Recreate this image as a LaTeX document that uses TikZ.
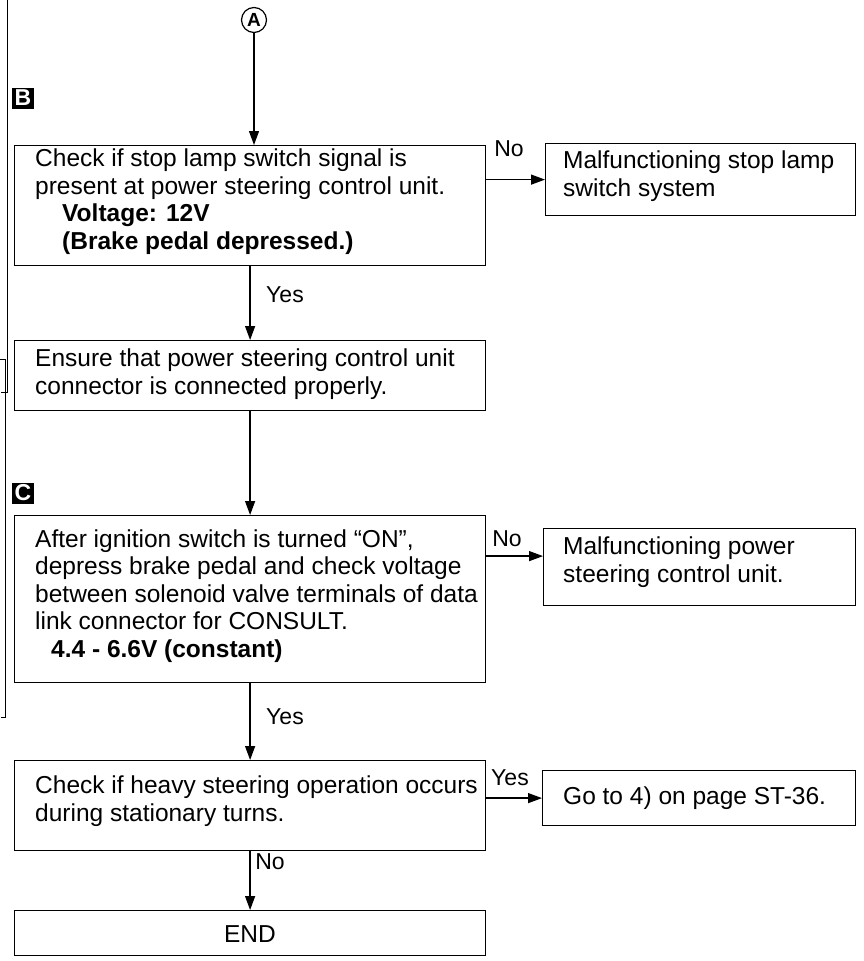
\documentclass[tikz,border=0pt]{standalone}
\usepackage{fontspec}
\setmainfont{Liberation Sans}
\usetikzlibrary{arrows.meta,positioning}
\begin{document}
\begin{tikzpicture}[x=1pt,y=-1pt,
  box/.style={draw, line width=1.2pt, anchor=north west, inner sep=0pt},
  txt/.style={anchor=base west, align=left, inner sep=0pt, font=\fontsize{24.5}{27.5}\selectfont},
  lbl/.style={font=\fontsize{23}{24}\selectfont, inner sep=1pt},
  tag/.style={fill=black, text=white, minimum width=22pt, minimum height=21pt, inner sep=0pt, font=\fontsize{23}{23}\selectfont\bfseries},
  arr/.style={line width=1.3pt, -{Triangle[length=14pt,width=10pt]}},
  brk/.style={line width=1pt}]
\useasboundingbox (0,0) rectangle (864,961);
% left margin brackets
\coordinate (b1a) at (7,0); \coordinate (b1b) at (7,392); \coordinate (b1c) at (1,392);
\draw[brk] (b1a) -- (b1b) -- (b1c);
\coordinate (b2a) at (0,359); \coordinate (b2b) at (5,359); \coordinate (b2c) at (5,717); \coordinate (b2d) at (1,717);
\draw[brk] (b2a) -- (b2b) -- (b2c) -- (b2d);
% circle A
\node[draw, circle, line width=1.2pt, minimum size=25pt, inner sep=0pt, font=\fontsize{19}{19}\selectfont\bfseries] (A) at (254,20) {A};
% tags
\node[tag] (B) at (23,98) {B};
\node[tag] (C) at (23,493) {C};
% boxes
\node[box, minimum width=471pt, minimum height=120pt] (b1) at (14,145) {};
\node[box, minimum width=310pt, minimum height=72pt] (b2) at (545,143) {};
\node[box, minimum width=471pt, minimum height=70pt] (b3) at (14,340) {};
\node[box, minimum width=471pt, minimum height=167pt] (b4) at (14,515) {};
\node[box, minimum width=312pt, minimum height=77pt] (b5) at (543,528) {};
\node[box, minimum width=471pt, minimum height=90pt] (b6) at (14,760) {};
\node[box, minimum width=313pt, minimum height=55pt] (b7) at (542,770) {};
\node[box, minimum width=471pt, minimum height=45pt] (b8) at (14,910) {};
% texts (anchored at the baseline of the last line)
\node[txt] (t1) at (35,249)
 {Check if stop lamp switch signal is\\present at power steering control unit.\\
  \hspace*{27pt}\textbf{Voltage: 12V}\\\hspace*{27pt}\textbf{(Brake pedal depressed.)}};
\node[txt] (t2) at (563,196) {Malfunctioning stop lamp\\switch system};
\node[txt] (t3) at (35,394) {Ensure that power steering control unit\\connector is connected properly.};
\node[txt] (t4) at (35,657)
 {After ignition switch is turned ``ON'',\\depress brake pedal and check voltage\\between solenoid valve terminals of data\\link connector for CONSULT.\\
  \hspace*{16pt}\textbf{4.4 - 6.6V (constant)}};
\node[txt] (t5) at (563,582) {Malfunctioning power\\steering control unit.};
\node[txt] (t6) at (35,821) {Check if heavy steering operation occurs\\during stationary turns.};
\node[txt] (t7) at (563,804) {Go to 4) on page ST-36.};
\node[txt, anchor=base] (t8) at (250,942) {END};
% connectors
\draw[arr] (A.south) -- (A.south |- b1.north);
\draw[arr] (b1.east |- b2.west) -- (b2.west);
\draw[arr] (b1.south) -- (b3.north);
\draw[arr] (b3.south) -- (b4.north);
\coordinate (p5) at ([yshift=11pt]b5.west);
\draw[arr] (b4.east |- p5) -- (p5);
\draw[arr] (b4.south) -- (b6.north);
\draw[arr] (b6.east |- b7.west) -- (b7.west);
\draw[arr] (b6.south) -- (b8.north);
% labels
\node[lbl] (n1) at (509,149) {No};
\node[lbl] (y1) at (285,295) {Yes};
\node[lbl] (n2) at (507,539) {No};
\node[lbl] (y2) at (285,717) {Yes};
\node[lbl] (y3) at (510,778) {Yes};
\node[lbl] (n3) at (270,862) {No};
\end{tikzpicture}
\end{document}
